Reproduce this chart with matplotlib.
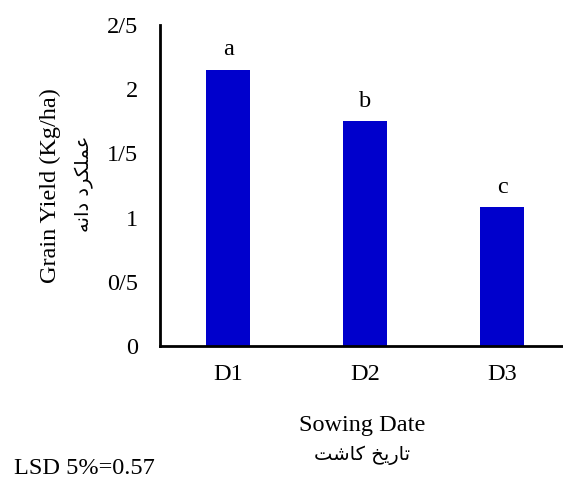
import matplotlib.pyplot as plt

# data
dates = ['D1', 'D2', 'D3']
yield_vals = [2.15, 1.75, 1.08]
letters = ['a', 'b', 'c']
yticks = [0, 0.5, 1, 1.5, 2, 2.5]
ytick_labels = ['0', '0/5', '1', '1/5', '2', '2/5']

# Persian labels, pre-shaped (presentation forms, visual order)
fa_ylabel = '\uFEEA\uFEE7\uFE8D\uFEA9 \uFEA9\uFEAE\uFB91\uFEE0\uFEE4\uFECB'
fa_xlabel = '\uFE96\uFEB7\uFE8E\uFB90 \uFEA6\uFEF3\uFEAD\uFE8E\uFE97'

plt.rcParams['font.family'] = ['Liberation Serif', 'DejaVu Sans']
fs = 17.5

fig = plt.figure(figsize=(5.63, 4.82), dpi=100)
ax = fig.add_axes([0.284, 0.282, 0.73, 0.666])

x = range(len(dates))
ax.bar(x, yield_vals, width=0.32, color='#0000CC')

for xi, v, l in zip(x, yield_vals, letters):
    ax.annotate(l, (xi, v), textcoords='offset points', xytext=(0, 7),
                ha='center', va='bottom', fontsize=fs)

ax.set_xlim(-0.5, 2.5)
ax.set_ylim(0, 2.5)
ax.set_yticks(yticks)
ax.set_yticklabels(ytick_labels)
ax.set_xticks(list(x))
ax.set_xticklabels(dates)
ax.tick_params(length=0, labelsize=fs)
ax.tick_params(axis='y', pad=15.5)
ax.tick_params(axis='x', pad=13)

for s in ['top', 'right']:
    ax.spines[s].set_visible(False)
for s in ['left', 'bottom']:
    ax.spines[s].set_linewidth(2)

fig.text(50 / 563, 1 - 186 / 482, 'Grain Yield (Kg/ha)', rotation=90,
         ha='center', va='center', fontsize=fs)
fig.text(84 / 563, 1 - 184 / 482, fa_ylabel, rotation=90,
         ha='center', va='center', fontsize=14, family=['DejaVu Sans'])
fig.text(362 / 563, 1 - 425 / 482, 'Sowing Date', ha='center', va='center', fontsize=fs)
fig.text(362 / 563, 1 - 455 / 482, fa_xlabel, ha='center', va='center',
         fontsize=14, family=['DejaVu Sans'])
fig.text(14 / 563, 1 - 469 / 482, 'LSD 5%=0.57', ha='left', va='center', fontsize=fs)

fig.savefig('out.png', dpi=100)
